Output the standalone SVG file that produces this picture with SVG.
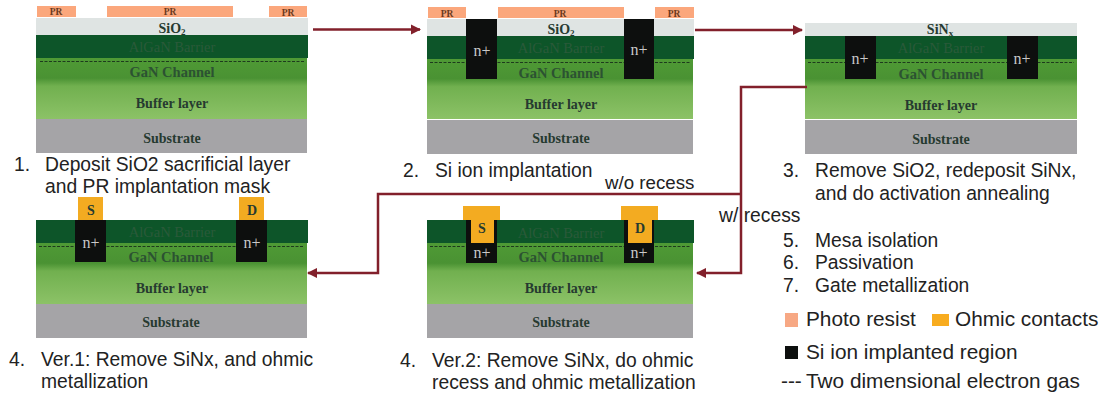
<svg xmlns="http://www.w3.org/2000/svg" width="1107" height="393" viewBox="0 0 1107 393">
<style>
.t{font-family:"Liberation Sans",Arial,sans-serif;font-size:19.300px;fill:#222}
.lg{font-size:20.800px}
.wo{font-size:18.700px}
.l{font-family:"Liberation Serif","Times New Roman",serif;font-weight:bold;text-anchor:middle;font-size:14px;fill:#263a30}
.pt{font-size:9.500px;fill:#6b3a1e}
.ba{fill:#2a5a3a;font-weight:normal;font-size:14.500px}
.ch{fill:#2c5232;font-size:14.500px}
.nt{font-family:"Liberation Serif","Times New Roman",serif;font-size:16px;fill:#c9c9c9;text-anchor:middle}
.pr{fill:#fba77c}.ox{fill:#dfe4e3}.bar{fill:#0d5529}.sub{fill:#a5a4a7}.n{fill:#0d0f0e}.oh{fill:#f3ab21}
.g2{fill:none;stroke:#1d3a1d;stroke-width:1.200;stroke-dasharray:3 1.500}
.c{fill:none;stroke:#82202b;stroke-width:2.500}
</style>
<defs>
<linearGradient id="gr" x1="0" y1="0" x2="0" y2="1">
<stop offset="0" stop-color="#4f9a35"/><stop offset=".33" stop-color="#4a9233"/><stop offset=".46" stop-color="#71b04f"/><stop offset="1" stop-color="#8cc267"/>
</linearGradient>
<marker id="a" viewBox="0 0 10 10" refX="9" refY="5" markerWidth="4.200" markerHeight="4.200" orient="auto-start-reverse"><path d="M0 0L10 5L0 10z" fill="#82202b"/></marker>
</defs>

<g id="step1">
<rect class="pr" x="37" y="6" width="39" height="11"/><rect class="pr" x="107" y="6" width="126" height="11"/><rect class="pr" x="269" y="6" width="38" height="11"/>
<rect class="ox" x="36" y="18" width="272" height="17"/><rect class="bar" x="36" y="35" width="272" height="23"/>
<rect fill="url(#gr)" x="36" y="58" width="271" height="61"/><rect class="sub" x="36" y="119" width="271" height="34"/>
<path class="g2" d="M40 61.500H304"/>
<text class="l pt" x="56" y="15">PR</text><text class="l pt" x="170" y="15">PR</text><text class="l pt" x="288" y="16">PR</text>
<text class="l" x="172" y="33">SiO<tspan font-size="9" dy="2">2</tspan></text>
<text class="l ba" x="172" y="52">AlGaN Barrier</text><text class="l ch" x="172" y="77">GaN Channel</text>
<text class="l" x="172" y="108">Buffer layer</text><text class="l" x="172" y="143">Substrate</text>
<text class="t" x="14" y="171">1.</text><text class="t" x="45" y="171">Deposit SiO2 sacrificial layer</text><text class="t" x="45" y="193">and PR implantation mask</text>
</g>

<g id="step2">
<rect class="pr" x="428" y="7" width="38" height="11"/><rect class="pr" x="498" y="7" width="126" height="11"/><rect class="pr" x="655" y="7" width="39" height="11"/>
<rect class="ox" x="427" y="19" width="267" height="17"/><rect class="bar" x="427" y="36" width="267" height="23"/>
<rect fill="url(#gr)" x="427" y="59" width="266" height="60"/><rect class="sub" x="427" y="120" width="266" height="34"/>
<path class="g2" d="M430 62.500H690"/>
<rect class="n" x="466" y="19" width="31" height="60"/><rect class="n" x="624" y="19" width="30" height="60"/>
<text class="nt" x="482" y="56">n+</text><text class="nt" x="639" y="55">n+</text>
<text class="l pt" x="447" y="17">PR</text><text class="l pt" x="560" y="17">PR</text><text class="l pt" x="674" y="17">PR</text>
<text class="l" x="561" y="34">SiO<tspan font-size="9" dy="2">2</tspan></text>
<text class="l ba" x="561" y="53">AlGaN Barrier</text><text class="l ch" x="561" y="78">GaN Channel</text>
<text class="l" x="561" y="109">Buffer layer</text><text class="l" x="561" y="143">Substrate</text>
<text class="t" x="403" y="177">2.</text><text class="t" x="435" y="177">Si ion implantation</text>
</g>

<g id="step3">
<rect class="ox" x="805" y="23" width="272" height="13"/><rect class="bar" x="805" y="36" width="272" height="23"/>
<rect fill="url(#gr)" x="805" y="59" width="272" height="60"/><rect class="sub" x="805" y="120" width="272" height="34"/>
<path class="g2" d="M808 62.500H1074"/>
<rect class="n" x="845" y="36" width="31" height="43"/><rect class="n" x="1007" y="36" width="31" height="43"/>
<text class="nt" x="860" y="64">n+</text><text class="nt" x="1022" y="64">n+</text>
<text class="l" x="940" y="34">SiN<tspan font-size="9" dy="2">x</tspan></text>
<text class="l ba" x="941" y="53">AlGaN Barrier</text><text class="l ch" x="941" y="79">GaN Channel</text>
<text class="l" x="941" y="110">Buffer layer</text><text class="l" x="941" y="144">Substrate</text>
<text class="t" x="783" y="177">3.</text><text class="t" x="815" y="177">Remove SiO2, redeposit SiNx,</text><text class="t" x="815" y="200">and do activation annealing</text>
</g>

<g id="step4-ver1">
<rect class="oh" x="78" y="197" width="25" height="23"/><rect class="oh" x="239" y="197" width="25" height="23"/>
<rect class="bar" x="36" y="220" width="272" height="23"/>
<rect fill="url(#gr)" x="36" y="243" width="271" height="61"/><rect class="sub" x="36" y="304" width="271" height="34"/>
<path class="g2" d="M39 246.500H304"/>
<rect class="n" x="75" y="220" width="31" height="42"/><rect class="n" x="236" y="220" width="31" height="42"/>
<text class="nt" x="91" y="248">n+</text><text class="nt" x="252" y="248">n+</text>
<text class="l" x="91" y="215" fill="#3a2a10">S</text><text class="l" x="252" y="215" fill="#3a2a10">D</text>
<text class="l ba" x="172" y="237">AlGaN Barrier</text><text class="l ch" x="171" y="262">GaN Channel</text>
<text class="l" x="172" y="293">Buffer layer</text><text class="l" x="171" y="327">Substrate</text>
<text class="t" x="9" y="366">4.</text><text class="t" x="41" y="366">Ver.1: Remove SiNx, and ohmic</text><text class="t" x="41" y="388">metallization</text>
</g>

<g id="step4-ver2">
<rect class="bar" x="427" y="220" width="267" height="23"/>
<rect fill="url(#gr)" x="427" y="243" width="266" height="61"/><rect class="sub" x="427" y="304" width="266" height="34"/>
<path class="g2" d="M430 246.500H691"/>
<rect class="n" x="466" y="220" width="31" height="43"/><rect class="n" x="624" y="220" width="30" height="43"/>
<path class="oh" d="M463 206H500V220H494V243H471V220H463z"/><path class="oh" d="M621 206H658V220H652V243H628V220H621z"/>
<text class="nt" x="482" y="258">n+</text><text class="nt" x="639" y="258">n+</text>
<text class="l" x="482" y="233" fill="#3a2a10">S</text><text class="l" x="640" y="233" fill="#3a2a10">D</text>
<text class="l ba" x="561" y="238">AlGaN Barrier</text><text class="l ch" x="561" y="262">GaN Channel</text>
<text class="l" x="561" y="293">Buffer layer</text><text class="l" x="561" y="327">Substrate</text>
<text class="t" x="400" y="367">4.</text><text class="t" x="432" y="367">Ver.2: Remove SiNx, do ohmic</text><text class="t" x="432" y="389">recess and ohmic metallization</text>
</g>

<g id="connectors">
<path class="c" marker-end="url(#a)" d="M313 29.500H420"/>
<path class="c" marker-end="url(#a)" d="M695 30H802"/>
<path class="c" d="M807 87H741V194"/>
<path class="c" marker-end="url(#a)" d="M741 194H378V273H308"/>
<path class="c" marker-end="url(#a)" d="M741 194V273H697"/>
</g>

<g id="branch-labels">
<text class="t wo" x="605" y="189">w/o recess</text>
<text class="t" x="719" y="222">w/ recess</text>
</g>

<g id="notes">
<text class="t" x="783" y="247">5.</text><text class="t" x="815" y="247">Mesa isolation</text>
<text class="t" x="783" y="269">6.</text><text class="t" x="815" y="269">Passivation</text>
<text class="t" x="783" y="292">7.</text><text class="t" x="815" y="292">Gate metallization</text>
</g>

<g id="legend">
<rect x="785" y="313" width="13" height="14" fill="#f7a884"/><text class="t lg" x="806" y="326">Photo resist</text>
<rect x="932" y="314" width="17" height="12" fill="#f8ac1f"/><text class="t lg" x="955" y="326">Ohmic contacts</text>
<rect class="n" x="785" y="346" width="13" height="13"/><text class="t lg" x="806" y="359">Si ion implanted region</text>
<text class="t lg" x="781" y="388">---</text><text class="t lg" x="806" y="388">Two dimensional electron gas</text>
</g>
</svg>
